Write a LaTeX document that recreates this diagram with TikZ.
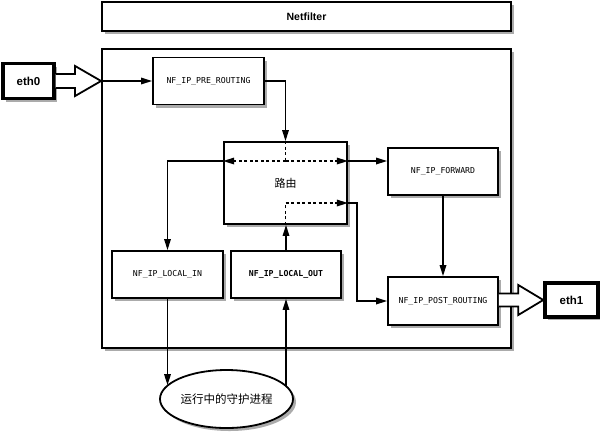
\documentclass[tikz,border=0pt]{standalone}
\usepackage{fontspec}
\newfontfamily\monof{DejaVu Sans Mono}
\newfontfamily\sansf{Liberation Sans}
\newfontfamily\cjk{Noto Sans CJK SC}
\usetikzlibrary{arrows.meta,calc,shapes.geometric,shadows}
\begin{document}
\begin{tikzpicture}[x=1bp,y=-1bp,
  shd/.style={drop shadow={shadow xshift=3bp,shadow yshift=-3bp,fill=black!55,opacity=0.6}},
  box/.style={draw,line width=1.8bp,fill=white,inner sep=0pt,shd},
  hook/.style={box,font=\monof\fontsize{8.2bp}{10bp}\selectfont},
  ethbox/.style={draw,line width=3.4bp,fill=white,inner sep=0pt,minimum width=51bp,minimum height=35bp,
     font=\sansf\bfseries\fontsize{11.5bp}{13bp}\selectfont,shd},
  ln/.style={line width=1.6bp},
  tip/.style={-{Triangle[length=11bp,width=6.5bp]}},
  arr/.style={ln,tip},
  dsh/.style={line width=1.6bp,dash pattern=on 3bp off 2.5bp},
  hollow/.style={line width=1.8bp,fill=white,line join=miter}]
\useasboundingbox (0,0) rectangle (600,432);
% frames
\node[box,minimum width=409bp,minimum height=29bp,font=\sansf\bfseries\fontsize{10.5bp}{12bp}\selectfont] (netf) at (306.5,16.5) {Netfilter};
\node[box,minimum width=409bp,minimum height=299bp] (main) at (306.5,198.5) {};
% hook boxes
\node[hook,minimum width=111bp,minimum height=47bp] (pre) at (208.5,81) {NF\_IP\_PRE\_ROUTING};
\node[box,minimum width=123bp,minimum height=82bp,font=\cjk\fontsize{11bp}{13bp}\selectfont] (route) at (285.5,183) {路由};
\node[hook,minimum width=110bp,minimum height=47bp] (fwd) at (443,171.5) {NF\_IP\_FORWARD};
\node[hook,minimum width=110bp,minimum height=48bp] (post) at (443,301) {NF\_IP\_POST\_ROUTING};
\node[hook,minimum width=111bp,minimum height=47bp] (lin) at (167.5,274.5) {NF\_IP\_LOCAL\_IN};
\node[hook,minimum width=110bp,minimum height=47bp,font=\monof\bfseries\fontsize{8.2bp}{10bp}\selectfont] (lout) at (286,274.5) {NF\_IP\_LOCAL\_OUT};
\node[ethbox] (eth0) at (28.5,81) {eth0};
\node[ethbox,minimum width=53bp,minimum height=34bp] (eth1) at (571.5,300) {eth1};
\node[ellipse,draw,line width=1.8bp,fill=white,inner sep=0pt,minimum width=133bp,minimum height=58bp,
  font=\cjk\fontsize{11.5bp}{13bp}\selectfont,shd] (daemon) at (226.5,399) {运行中的守护进程};
% hollow arrows
\coordinate (t0) at (main.west |- pre.west);
\draw[hollow] ($(eth0.east)+(0,-7)$) -- ($(t0)+(-26,-7)$) -- ($(t0)+(-26,-15)$) -- (t0)
  -- ($(t0)+(-26,15)$) -- ($(t0)+(-26,7)$) -- ($(eth0.east)+(0,7)$);
\coordinate (t1) at (eth1.west);
\draw[hollow] ($(post.east |- t1)+(0,-6.5)$) -- ($(t1)+(-25,-6.5)$) -- ($(t1)+(-25,-15)$) -- (t1)
  -- ($(t1)+(-25,15)$) -- ($(t1)+(-25,6.5)$) -- ($(post.east |- t1)+(0,6.5)$);
% connectors
\draw[arr] (t0) -- (pre.west);
\draw[arr] (pre.east) -| (route.north);
\coordinate (rA) at (285.5,161);
\coordinate (rB) at (285.5,203);
\coordinate (rBt) at (357,203);
\draw[dsh] (route.north) -- (rA);
\draw[dsh,tip] (rA) -- (route.west |- rA);
\draw[dsh,tip] (rA) -- (route.east |- rA);
\draw[arr] (route.west |- rA) -| (lin.north);
\draw[arr] (route.east |- rA) -- (fwd.west |- rA);
\draw[dsh] (route.south) -- (rB);
\draw[dsh,tip] (rB) -- (route.east |- rB);
\draw[arr] (route.east |- rB) -- (rBt) |- (post.west);
\draw[arr] (lout.north) -- (lout.north |- route.south);
\draw[arr] (fwd.south) -- (post.north);
\draw[arr] (lin.south) -- (lin.south |- daemon.167.6);
\draw[arr] (lout.south |- daemon.12.4) -- (lout.south);
\end{tikzpicture}
\end{document}
